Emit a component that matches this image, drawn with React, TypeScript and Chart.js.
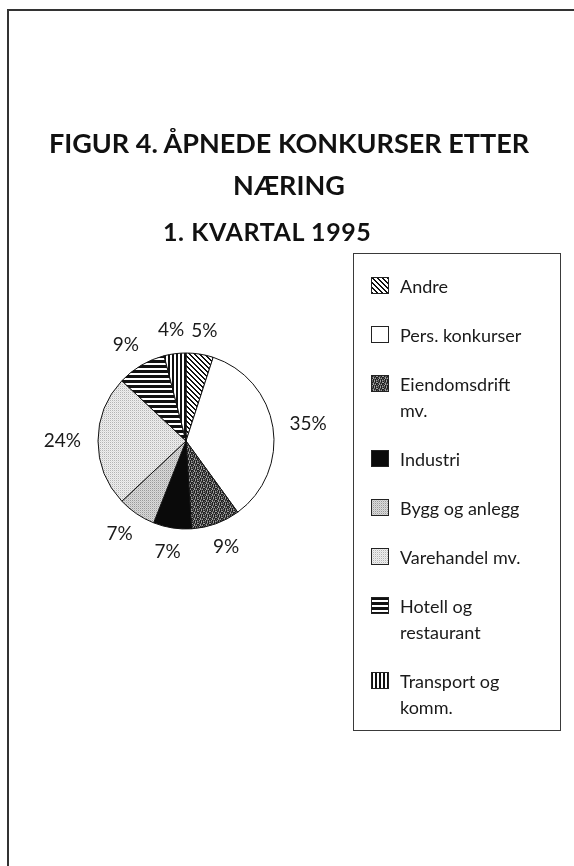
import React, { useEffect, useRef } from "react";
import { Chart, registerables } from "chart.js";

Chart.register(...registerables);

// ---- data ----
const categories = [
  "Andre",
  "Pers. konkurser",
  "Eiendomsdrift\nmv.",
  "Industri",
  "Bygg og anlegg",
  "Varehandel mv.",
  "Hotell og\nrestaurant",
  "Transport og\nkomm.",
];
const shares = [5, 35, 9, 7, 7, 24, 9, 4];

const TITLE_LINES = ["FIGUR 4. ÅPNEDE KONKURSER ETTER", "NÆRING"];
const SUBTITLE = "1. KVARTAL 1995";

const W = 574;
const H = 866;

type Paint = (g: CanvasRenderingContext2D) => void;

function tile(ctx: CanvasRenderingContext2D, w: number, h: number, paint: Paint): CanvasPattern {
  const c = document.createElement("canvas");
  c.width = w;
  c.height = h;
  const g = c.getContext("2d") as CanvasRenderingContext2D;
  paint(g);
  return ctx.createPattern(c, "repeat") as CanvasPattern;
}

const MOTTLE = ["abacab", "cabbac", "abcaba", "bacbca", "acabab", "bbacac"];
const MOTTLE_COL: Record<string, string> = { a: "#1e1e1e", b: "#555555", c: "#a0a0a0" };

function makeFills(ctx: CanvasRenderingContext2D): (string | CanvasPattern)[] {
  const diag = tile(ctx, 5, 5, (g) => {
    g.fillStyle = "#fff";
    g.fillRect(0, 0, 5, 5);
    g.fillStyle = "#111";
    for (let y = 0; y < 5; y++)
      for (let x = 0; x < 5; x++) if ((((x - y) % 5) + 5) % 5 < 2) g.fillRect(x, y, 1, 1);
  });
  const mottled = tile(ctx, 6, 6, (g) => {
    MOTTLE.forEach((row, y) =>
      row.split("").forEach((ch, x) => {
        g.fillStyle = MOTTLE_COL[ch];
        g.fillRect(x, y, 1, 1);
      })
    );
  });
  const stipple = (c1: string, c2: string, c3: string) =>
    tile(ctx, 2, 2, (g) => {
      g.fillStyle = c2;
      g.fillRect(0, 0, 2, 2);
      g.fillStyle = c1;
      g.fillRect(0, 0, 1, 1);
      g.fillStyle = c3;
      g.fillRect(1, 1, 1, 1);
    });
  const horiz = tile(ctx, 1, 5, (g) => {
    g.fillStyle = "#fff";
    g.fillRect(0, 0, 1, 5);
    g.fillStyle = "#111";
    g.fillRect(0, 0, 1, 3);
  });
  const vert = tile(ctx, 4, 1, (g) => {
    g.fillStyle = "#fff";
    g.fillRect(0, 0, 4, 1);
    g.fillStyle = "#111";
    g.fillRect(0, 0, 2, 1);
  });
  return [
    diag,
    "#ffffff",
    mottled,
    "#0a0a0a",
    stipple("#9a9a9a", "#dadada", "#c4c4c4"),
    stipple("#b4b4b4", "#eeeeee", "#dedede"),
    horiz,
    vert,
  ];
}

const pctPlugin = {
  id: "pctLabels",
  afterDatasetsDraw(chart: any) {
    const ctx: CanvasRenderingContext2D = chart.ctx;
    const meta = chart.getDatasetMeta(0);
    const values: number[] = chart.data.datasets[0].data;
    ctx.save();
    ctx.font = "19px Lato";
    ctx.fillStyle = "#1a1a1a";
    ctx.textAlign = "center";
    ctx.textBaseline = "middle";
    meta.data.forEach((arc: any, i: number) => {
      const p = arc.getProps(["x", "y", "startAngle", "endAngle", "outerRadius"], true);
      const a = (p.startAngle + p.endAngle) / 2;
      const text = `${values[i]}%`;
      const w = ctx.measureText(text).width;
      const h = 14;
      const R = p.outerRadius + 17;
      const cx = p.x + Math.cos(a) * R + (Math.cos(a) * w) / 2;
      const cy = p.y + Math.sin(a) * R + (Math.sin(a) * h) / 2;
      ctx.fillText(text, cx, cy);
    });
    ctx.restore();
  },
};

const legendPlugin = {
  id: "boxLegend",
  afterDraw(chart: any) {
    const ctx: CanvasRenderingContext2D = chart.ctx;
    const ds = chart.data.datasets[0];
    const labels: string[] = chart.data.labels;
    const box = { x: 353.5, y: 253.5, w: 207, h: 477 };
    ctx.save();
    ctx.strokeStyle = "#3a3a3a";
    ctx.lineWidth = 1;
    ctx.strokeRect(box.x, box.y, box.w, box.h);
    ctx.font = "18px Lato";
    ctx.fillStyle = "#1a1a1a";
    ctx.textAlign = "left";
    ctx.textBaseline = "middle";
    let yc = 287;
    labels.forEach((lab, i) => {
      const lines = lab.split("\n");
      const sx = 371;
      const sy = yc - 10;
      ctx.save();
      ctx.translate(sx, sy);
      ctx.fillStyle = ds.backgroundColor[i];
      ctx.fillRect(0, 0, 18, 17);
      ctx.restore();
      ctx.strokeStyle = "#222";
      ctx.strokeRect(sx + 0.5, sy + 0.5, 17, 16);
      ctx.fillStyle = "#1a1a1a";
      lines.forEach((ln, k) => {
        ctx.fillText(ln, 400, yc + k * 26);
      });
      yc += 49 + (lines.length - 1) * 26;
    });
    ctx.restore();
  },
};

export default function App() {
  const ref = useRef<HTMLCanvasElement | null>(null);
  useEffect(() => {
    const canvas = ref.current;
    if (!canvas) return;
    const ctx = canvas.getContext("2d") as CanvasRenderingContext2D;
    const chart = new Chart(ctx, {
      type: "pie",
      data: {
        labels: categories,
        datasets: [
          {
            data: shares,
            backgroundColor: makeFills(ctx) as any,
            borderColor: "#111111",
            borderWidth: 1,
            radius: 88,
          } as any,
        ],
      },
      options: {
        responsive: false,
        devicePixelRatio: 1,
        animation: false,
        layout: { padding: { left: 99, right: W - 273, top: 354, bottom: H - 528 } },
        plugins: {
          legend: { display: false },
          tooltip: { enabled: false },
          title: { display: false },
        },
      },
      plugins: [pctPlugin, legendPlugin],
    });
    return () => chart.destroy();
  }, []);

  return (
    <div style={{ position: "absolute", left: 0, top: 0, width: W, height: H, overflow: "hidden", background: "#fff" }}>
      <div
        style={{
          position: "absolute",
          left: 7,
          top: 9,
          width: W + 10,
          height: H + 10,
          borderTop: "2px solid #333",
          borderLeft: "2px solid #333",
        }}
      />
      <canvas ref={ref} width={W} height={H} style={{ position: "absolute", left: 0, top: 0, width: W, height: H }} />
      <div
        style={{
          position: "absolute",
          left: 8,
          width: 562,
          top: 122,
          textAlign: "center",
          font: "bold 27px Lato",
          lineHeight: "42px",
          color: "#111",
        }}
      >
        {TITLE_LINES.map((t, i) => (
          <div key={i}>{t}</div>
        ))}
      </div>
      <div
        style={{
          position: "absolute",
          left: 163,
          top: 216,
          font: "bold 25px Lato",
          letterSpacing: "0.6px",
          lineHeight: "30px",
          color: "#111",
          whiteSpace: "nowrap",
        }}
      >
        {SUBTITLE}
      </div>
    </div>
  );
}
